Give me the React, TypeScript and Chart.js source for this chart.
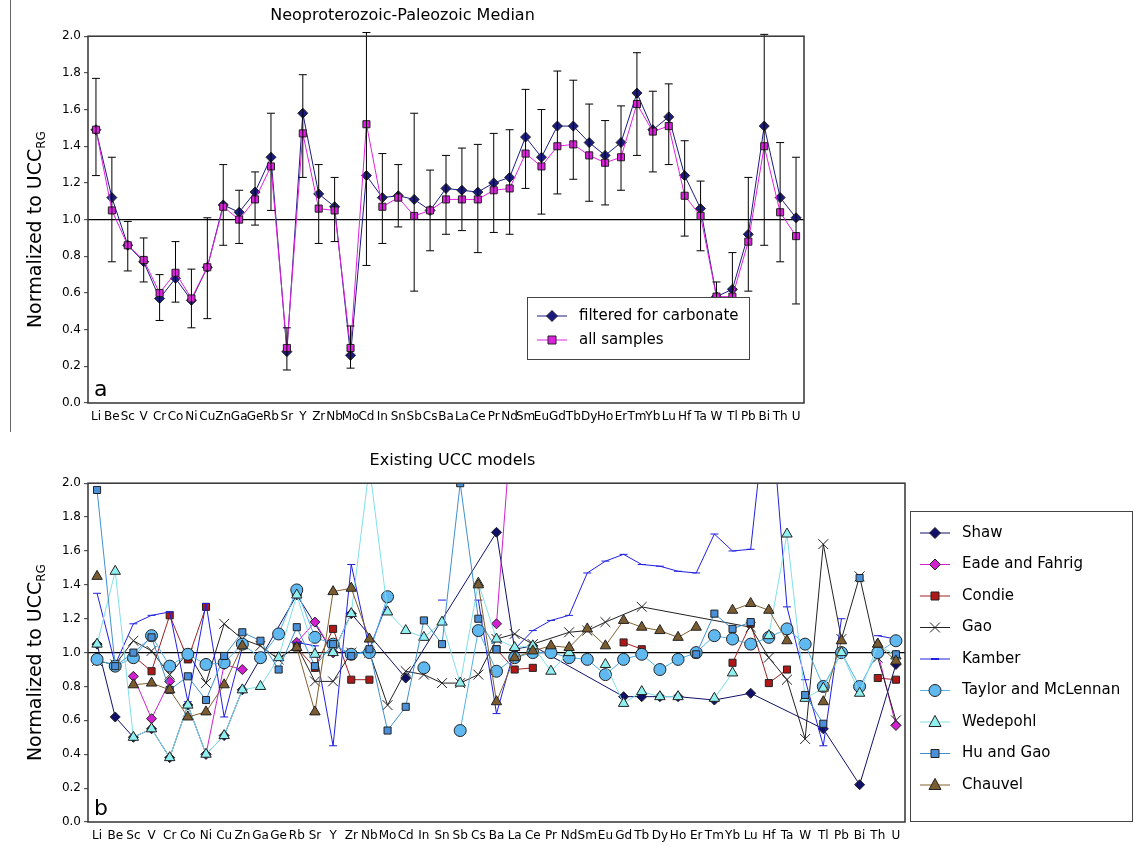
import React, { useEffect, useRef } from "react";
import { Chart, registerables } from "chart.js";
Chart.register(...registerables);

const elements = ["Li","Be","Sc","V","Cr","Co","Ni","Cu","Zn","Ga","Ge","Rb","Sr","Y","Zr","Nb","Mo","Cd","In","Sn","Sb","Cs","Ba","La","Ce","Pr","Nd","Sm","Eu","Gd","Tb","Dy","Ho","Er","Tm","Yb","Lu","Hf","Ta","W","Tl","Pb","Bi","Th","U"];

// panel a
const filtered = [1.49,1.12,0.86,0.77,0.57,0.68,0.56,0.74,1.08,1.04,1.15,1.34,0.28,1.58,1.14,1.07,0.26,1.24,1.12,1.13,1.11,1.05,1.17,1.16,1.15,1.20,1.23,1.45,1.34,1.51,1.51,1.42,1.35,1.42,1.69,1.49,1.56,1.24,1.06,0.58,0.62,0.92,1.51,1.12,1.01];
const allSamples = [1.49,1.05,0.86,0.78,0.60,0.71,0.57,0.74,1.07,1.00,1.11,1.29,0.30,1.47,1.06,1.05,0.30,1.52,1.07,1.12,1.02,1.05,1.11,1.11,1.11,1.16,1.17,1.36,1.29,1.40,1.41,1.35,1.31,1.34,1.63,1.48,1.51,1.13,1.02,0.58,0.58,0.88,1.40,1.04,0.91];
const errLow = [1.24,0.77,0.72,0.66,0.45,0.55,0.41,0.46,0.86,0.87,0.97,1.05,0.18,1.23,0.87,0.88,0.19,0.75,0.87,0.96,0.61,0.83,0.92,0.94,0.82,0.93,0.92,1.17,1.03,1.14,1.22,1.10,1.08,1.16,1.35,1.26,1.30,0.91,0.83,0.50,0.39,0.61,0.86,0.77,0.54];
const errHigh = [1.77,1.34,0.99,0.90,0.70,0.88,0.73,1.01,1.30,1.16,1.26,1.58,0.41,1.79,1.30,1.23,0.42,2.02,1.36,1.30,1.58,1.27,1.35,1.39,1.41,1.47,1.49,1.71,1.60,1.81,1.76,1.63,1.54,1.62,1.91,1.70,1.74,1.43,1.21,0.66,0.82,1.23,2.01,1.42,1.34];

// panel b
const N = null;
const shaw = [1.05,0.62,0.50,0.55,0.38,0.69,0.40,0.51,0.78,N,N,1.34,N,1.00,1.23,N,N,0.85,N,N,N,N,1.71,1.02,1.04,N,N,N,N,0.74,0.74,0.74,0.74,N,0.72,N,0.76,N,N,N,0.55,N,0.22,N,0.93];
const eade = [N,N,0.86,0.61,0.83,N,0.40,0.93,0.90,N,N,1.06,1.18,1.00,N,N,N,N,N,N,N,N,1.17,2.6,N,N,N,N,N,N,N,N,N,N,N,N,N,N,N,N,N,N,N,1.00,0.57];
const condie = [N,N,0.98,0.89,1.22,0.96,1.27,N,N,N,N,1.03,0.91,1.14,0.84,0.84,N,N,N,N,N,N,1.02,0.90,0.91,N,N,N,N,1.06,1.02,N,N,N,N,0.94,1.17,0.82,0.90,N,N,N,N,0.85,0.84];
const gao = [0.95,0.93,1.07,1.01,0.87,1.00,0.82,1.17,1.08,1.04,0.96,1.04,0.83,0.83,1.00,1.00,0.69,0.89,0.87,0.82,0.82,0.87,1.08,1.11,1.05,N,1.12,1.13,1.18,N,1.27,N,N,N,N,N,1.15,0.97,0.84,0.49,1.64,1.08,1.45,0.97,0.60];
const kamber = [1.35,0.93,1.17,1.22,1.24,0.71,1.29,0.62,1.03,N,N,1.06,1.04,0.45,1.52,1.02,1.30,N,N,1.31,N,1.31,0.64,1.02,1.13,1.19,1.22,1.47,1.54,1.58,1.52,1.51,1.48,1.47,1.70,1.60,1.61,2.6,1.27,0.84,0.45,1.20,N,1.10,1.08];
const taylor = [0.96,0.92,0.97,1.10,0.92,0.99,0.93,0.94,1.05,0.97,1.11,1.37,1.09,1.05,0.99,1.00,1.33,N,0.91,N,0.54,1.13,0.89,0.97,1.00,1.00,0.97,0.96,0.87,0.96,0.99,0.90,0.96,1.00,1.10,1.08,1.05,1.09,1.14,1.05,0.80,1.00,0.80,1.00,1.07];
const wedepohl = [1.05,1.48,0.50,0.55,0.38,0.69,0.40,0.51,0.78,0.80,0.97,1.34,0.99,1.00,1.23,2.1,1.24,1.13,1.09,1.18,0.82,1.41,1.08,1.03,1.04,0.89,1.00,N,0.93,0.70,0.77,0.74,0.74,N,0.73,0.88,N,1.10,1.70,0.73,0.79,1.00,0.76,1.05,0.98];
const huGao = [1.96,0.92,1.00,1.09,0.78,0.86,0.72,0.98,1.12,1.07,0.90,1.15,0.92,1.05,0.98,1.02,0.54,0.68,1.19,1.05,2.00,1.20,1.02,N,N,N,N,N,N,N,N,N,N,0.99,1.23,1.14,1.18,N,N,0.75,0.58,N,1.44,N,0.99];
const chauvel = [1.45,N,0.81,0.82,0.78,0.62,0.65,0.81,1.04,N,N,1.03,0.65,1.36,1.38,1.08,N,N,N,N,N,1.40,0.71,0.97,1.01,1.04,1.03,1.14,1.04,1.19,1.15,1.13,1.09,1.15,N,1.25,1.29,1.25,1.07,N,0.71,1.07,N,1.05,0.95];

const FONT = "'DejaVu Sans', sans-serif";

let orderCounter = 0;
const makeDs = (label: string, data: (number | null)[], line: string, fill: string, style: string, r = 5, span = false) => ({
  label, data, borderColor: line, backgroundColor: fill, borderWidth: 1,
  pointStyle: style, pointRadius: r, pointBorderColor: style === "crossRot" || style === "line" ? line : "#222",
  pointBorderWidth: 1, spanGaps: span, order: -(orderCounter++),
});

function drawMarker(ctx: CanvasRenderingContext2D, style: string, r: number, x: number, y: number) {
  ctx.beginPath();
  if (style === "circle") ctx.arc(x, y, r, 0, Math.PI * 2);
  else if (style === "rect") ctx.rect(x - r * 0.8, y - r * 0.8, r * 1.6, r * 1.6);
  else if (style === "rectRot") { ctx.moveTo(x, y - r * 1.1); ctx.lineTo(x + r * 1.1, y); ctx.lineTo(x, y + r * 1.1); ctx.lineTo(x - r * 1.1, y); ctx.closePath(); }
  else if (style === "triangle") { ctx.moveTo(x, y - r * 1.1); ctx.lineTo(x + r, y + r * 0.75); ctx.lineTo(x - r, y + r * 0.75); ctx.closePath(); }
  else if (style === "crossRot") { ctx.moveTo(x - r * 0.7, y - r * 0.7); ctx.lineTo(x + r * 0.7, y + r * 0.7); ctx.moveTo(x + r * 0.7, y - r * 0.7); ctx.lineTo(x - r * 0.7, y + r * 0.7); ctx.stroke(); return; }
  else if (style === "line") { ctx.lineWidth = 2; ctx.moveTo(x - r, y); ctx.lineTo(x + r, y); ctx.stroke(); ctx.lineWidth = 1; return; }
  ctx.fill();
  ctx.stroke();
}

const boxLegend = (x: number, y: number, w: number, h: number, rowH: number, padTop: number) => ({
  id: "boxLegend",
  afterDraw(chart: any) {
    const ctx = chart.ctx;
    ctx.save();
    ctx.fillStyle = "#fff";
    ctx.fillRect(x, y, w, h);
    ctx.strokeStyle = "#444";
    ctx.lineWidth = 1;
    ctx.strokeRect(x + 0.5, y + 0.5, w, h);
    chart.data.datasets.forEach((ds: any, i: number) => {
      const cy = y + padTop + i * rowH;
      ctx.strokeStyle = ds.borderColor;
      ctx.beginPath(); ctx.moveTo(x + 10, cy); ctx.lineTo(x + 40, cy); ctx.stroke();
      ctx.fillStyle = ds.backgroundColor;
      ctx.strokeStyle = ds.pointBorderColor;
      drawMarker(ctx, ds.pointStyle, ds.pointRadius, x + 25, cy);
      ctx.fillStyle = "#000";
      ctx.font = `15px ${FONT}`;
      ctx.textBaseline = "middle";
      ctx.fillText(ds.label, x + 52, cy);
    });
    ctx.restore();
  },
});

const frame = {
  id: "frame",
  afterDraw(chart: any) {
    const { ctx, chartArea: a } = chart;
    ctx.save();
    ctx.strokeStyle = "#333";
    ctx.lineWidth = 1.5;
    ctx.strokeRect(a.left, a.top, a.right - a.left, a.bottom - a.top);
    ctx.restore();
  },
};

const yTitle = (letter: string) => ({
  id: "yTitle",
  afterDraw(chart: any) {
    const { ctx, chartArea: a } = chart;
    ctx.save();
    ctx.translate(36, (a.top + a.bottom) / 2 + 10);
    ctx.rotate(-Math.PI / 2);
    ctx.fillStyle = "#000";
    ctx.textBaseline = "middle";
    const main = "Normalized to UCC";
    ctx.font = `19px ${FONT}`;
    const w1 = ctx.measureText(main).width;
    ctx.font = `12px ${FONT}`;
    const w2 = ctx.measureText("RG").width;
    const start = -(w1 + w2) / 2;
    ctx.font = `19px ${FONT}`;
    ctx.fillText(main, start, 0);
    ctx.font = `12px ${FONT}`;
    ctx.fillText("RG", start + w1, 6);
    ctx.restore();
    ctx.save();
    ctx.font = `22px ${FONT}`;
    ctx.fillStyle = "#000";
    ctx.textBaseline = "bottom";
    ctx.fillText(letter, a.left + 6, a.bottom - 2);
    ctx.restore();
  },
});

const errorBars = {
  id: "errorBars",
  afterDatasetsDraw(chart: any) {
    const { ctx, scales } = chart;
    ctx.save();
    ctx.strokeStyle = "#000";
    ctx.lineWidth = 1;
    elements.forEach((_, i) => {
      const x = scales.x.getPixelForValue(i);
      const yl = scales.y.getPixelForValue(errLow[i]);
      const yh = scales.y.getPixelForValue(errHigh[i]);
      ctx.beginPath();
      ctx.moveTo(x, yl); ctx.lineTo(x, yh);
      ctx.moveTo(x - 4, yl); ctx.lineTo(x + 4, yl);
      ctx.moveTo(x - 4, yh); ctx.lineTo(x + 4, yh);
      ctx.stroke();
    });
    ctx.restore();
  },
};

const scalesFor = (yWidth: number, xHeight: number) => ({
  x: {
    type: "category" as const,
    offset: true,
    grid: { display: false, drawTicks: true, tickLength: 4 },
    border: { display: false },
    ticks: { color: "#000", font: { family: FONT, size: 12 }, autoSkip: false, maxRotation: 0 },
    afterFit: (s: any) => { s.height = xHeight; },
  },
  y: {
    min: 0, max: 2,
    border: { display: false },
    grid: {
      color: (c: any) => (c.tick && c.tick.value === 1 ? "#000" : "rgba(0,0,0,0)"),
      lineWidth: 1.2, drawTicks: true, tickLength: 4, tickColor: "#555",
    },
    ticks: { stepSize: 0.2, color: "#000", font: { family: FONT, size: 12 }, callback: (v: any) => Number(v).toFixed(1) },
    afterFit: (s: any) => { s.width = yWidth; },
  },
});

export default function App() {
  const topRef = useRef<HTMLCanvasElement>(null);
  const botRef = useRef<HTMLCanvasElement>(null);

  useEffect(() => {
    document.body.style.margin = "0";
    const charts: Chart[] = [];
    if (topRef.current) {
      orderCounter = 0;
      charts.push(new Chart(topRef.current, {
        type: "line",
        data: {
          labels: elements,
          datasets: [
            makeDs("filtered for carbonate", filtered, "#1a1a80", "#1a1a80", "rectRot", 5),
            makeDs("all samples", allSamples, "#e020e0", "#e020e0", "rect", 5),
          ],
        },
        options: {
          animation: false, responsive: false,
          layout: { padding: { right: 5, top: 0, left: 0 } },
          plugins: {
            legend: { display: false }, tooltip: { enabled: false },
            title: { display: true, text: "Neoproterozoic-Paleozoic Median", color: "#000", font: { family: FONT, size: 16, weight: "normal" }, padding: { top: 6, bottom: 11 } },
          },
          scales: scalesFor(88, 37) as any,
        },
        plugins: [errorBars, frame, yTitle("a"), boxLegend(527, 297, 222, 62, 24, 19)],
      }));
    }
    if (botRef.current) {
      orderCounter = 0;
      charts.push(new Chart(botRef.current, {
        type: "line",
        data: {
          labels: elements,
          datasets: [
            makeDs("Shaw", shaw, "#10106a", "#10106a", "rectRot", 5, true),
            makeDs("Eade and Fahrig", eade, "#d020d0", "#d020d0", "rectRot"),
            makeDs("Condie", condie, "#a02020", "#b01818", "rect"),
            makeDs("Gao", gao, "#222222", "#222222", "crossRot", 7, true),
            makeDs("Kamber", kamber, "#2020e0", "#2020e0", "line", 4),
            makeDs("Taylor and McLennan", taylor, "#50b0e8", "#60b8f0", "circle", 6),
            makeDs("Wedepohl", wedepohl, "#80e0e8", "#90f0f0", "triangle", 6),
            makeDs("Hu and Gao", huGao, "#4090d0", "#4a90d8", "rect"),
            makeDs("Chauvel", chauvel, "#806030", "#7a5c30", "triangle", 6),
          ],
        },
        options: {
          animation: false, responsive: false,
          layout: { padding: { right: 229, top: 0, left: 0 } },
          plugins: {
            legend: { display: false }, tooltip: { enabled: false },
            title: { display: true, text: "Existing UCC models", color: "#000", font: { family: FONT, size: 16, weight: "normal" }, padding: { top: 6, bottom: 13 } },
          },
          scales: scalesFor(88, 32) as any,
        },
        plugins: [frame, yTitle("b"), boxLegend(910, 66, 222, 310, 31.5, 22)],
      }));
    }
    return () => charts.forEach((c) => c.destroy());
  }, []);

  return (
    <div style={{ width: 1134, height: 854, background: "#fff", position: "relative" }}>
      <div style={{ position: "absolute", left: 10, top: 0, width: 1, height: 432, background: "#666" }} />
      <canvas ref={topRef} width={810} height={440} style={{ position: "absolute", left: 0, top: 0 }} />
      <canvas ref={botRef} width={1134} height={409} style={{ position: "absolute", left: 0, top: 445 }} />
    </div>
  );
}
